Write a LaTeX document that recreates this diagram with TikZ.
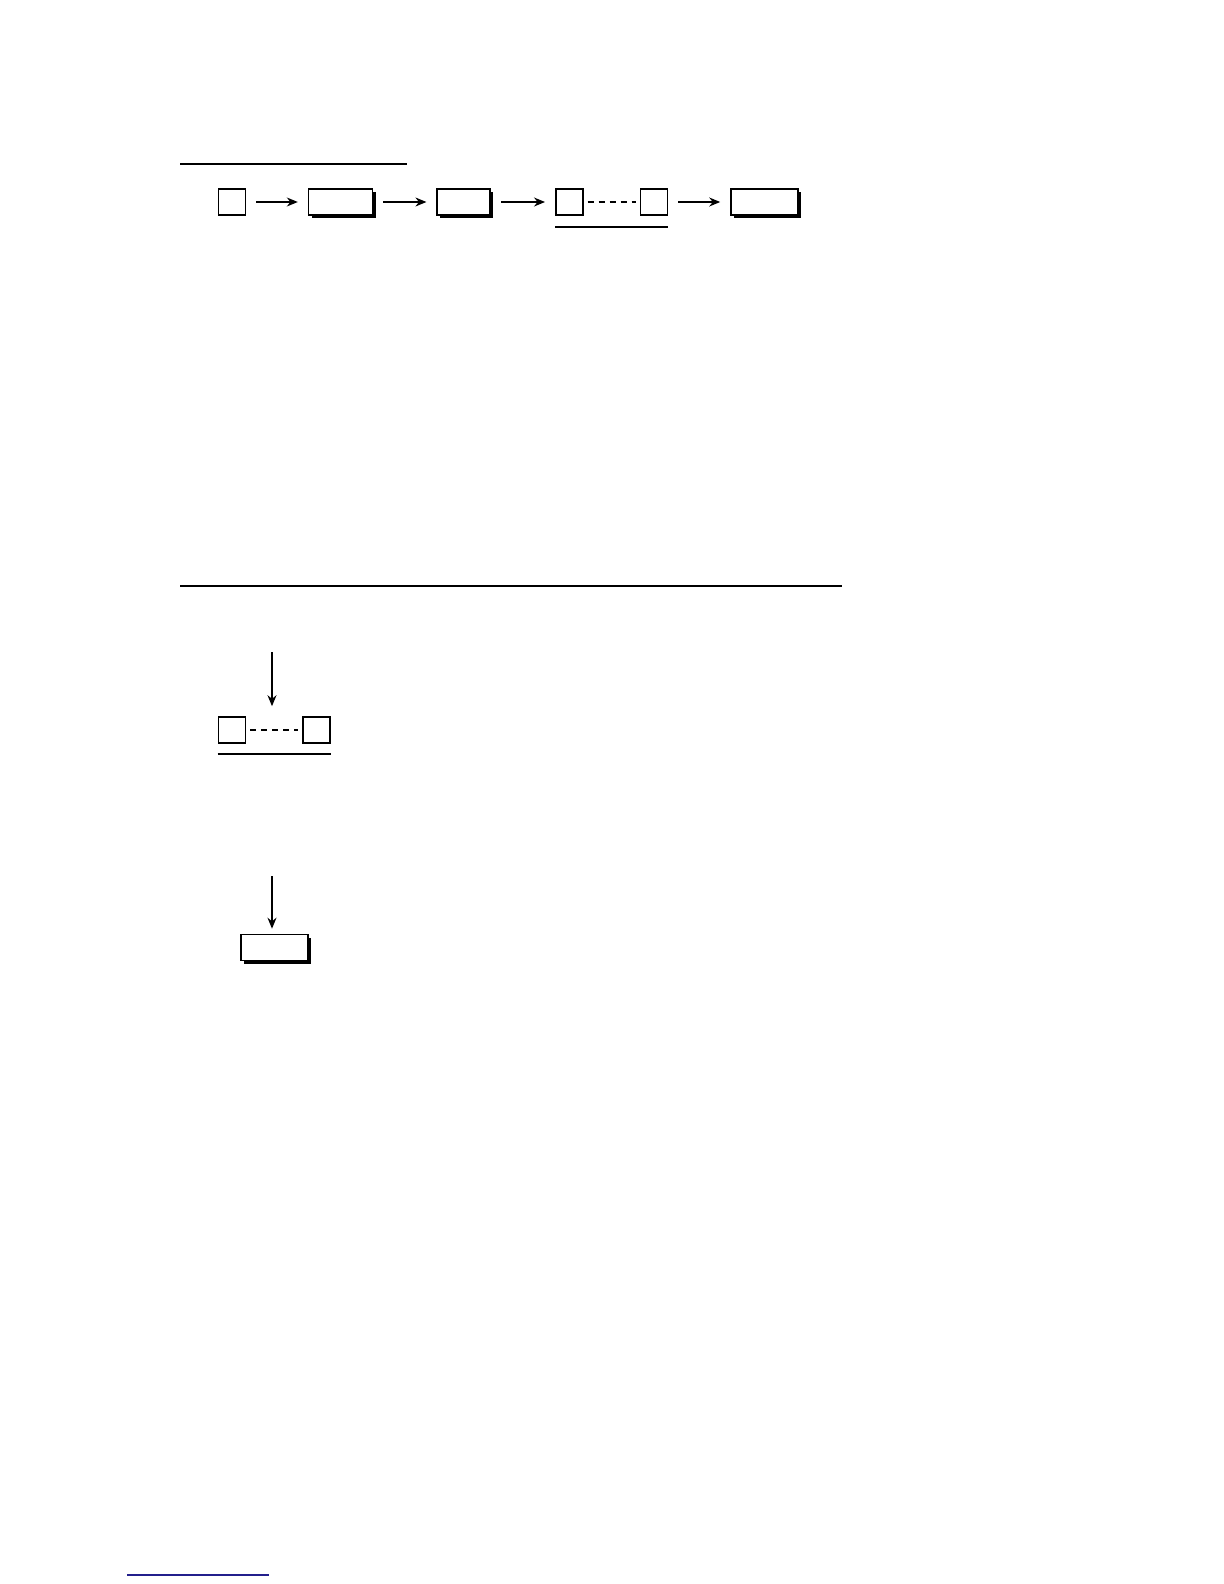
\documentclass[tikz,border=0pt]{standalone}
\usepackage{tikz}
\usetikzlibrary{positioning, shadows, arrows.meta}
\definecolor{linkblue}{RGB}{35,31,140}

\begin{document}
\begin{tikzpicture}[
    x=0.5pt, y=-0.5pt,
    node distance=31.5pt,
    every node/.style={
        draw,
        fill=white,
        line width=0.8pt,
        inner sep=0pt,
        minimum height=13pt
    },
    small/.style={minimum width=13.5pt},
    wide/.style={
        minimum width=#1,
        drop shadow={shadow xshift=1.6pt, shadow yshift=-1.6pt, fill=black, opacity=1}
    },
    arrow/.style={-{Stealth[length=5.5pt, width=4.5pt, inset=1.8pt]}, line width=0.6pt, shorten >=5pt, shorten <=5pt},
    gapline/.style={dashed, dash pattern=on 3pt off 2.5pt, line width=0.6pt, shorten >=2pt, shorten <=2pt},
    rule/.style={line width=0.7pt}
]
\useasboundingbox (0,0) rectangle (1224,1584);

% ======================
% Upper flow
% ======================
\draw[rule] (180,164) -- (407,164);

\node[small] (flow_a) at (232,202) {};
\node[wide=32pt, right=30.75pt of flow_a] (flow_b) {};
\node[wide=26.5pt, right=31.5pt of flow_b] (flow_c) {};
\node[small, right=32pt of flow_c] (flow_d) {};
\node[small, right=28pt of flow_d] (flow_e) {};
\node[wide=33.5pt, right=31pt of flow_e] (flow_f) {};

\draw[arrow] (flow_a) -- (flow_b);
\draw[arrow] (flow_b) -- (flow_c);
\draw[arrow] (flow_c) -- (flow_d);
\draw[gapline] (flow_d) -- (flow_e);
\draw[arrow] (flow_e) -- (flow_f);

\draw[rule] ([yshift=-5.5pt]flow_d.south west) -- ([yshift=-5.5pt]flow_e.south east);

% ======================
% Lower stack
% ======================
\draw[rule] (180,586) -- (842,586);

\node[small] (stack_left) at (232,730) {};
\node[small, right=28pt of stack_left] (stack_right) {};
\coordinate (stack_in) at (272,652);

\draw[arrow, shorten <=0pt] (stack_in) -- (stack_in |- stack_left.north);
\draw[gapline] (stack_left) -- (stack_right);
\draw[rule] ([yshift=-5pt]stack_left.south west) -- ([yshift=-5pt]stack_right.south east);

\node[wide=33.5pt] (stack_out) at (274.5,947.5) {};
\coordinate (stack_top) at (272,876);

\draw[arrow, shorten <=0pt, shorten >=2.5pt] (stack_top) -- (stack_top |- stack_out.north);

% footnote rule
\draw[linkblue, line width=0.7pt] (127,1575) -- (269,1575);

\end{tikzpicture}
\end{document}
